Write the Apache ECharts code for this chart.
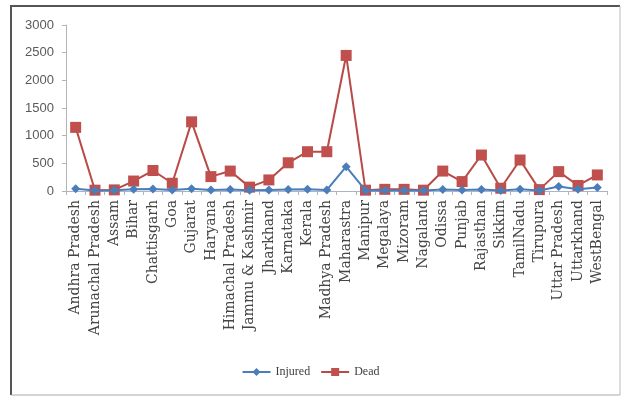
<!DOCTYPE html>
<html>
<head>
<meta charset="utf-8">
<script src="https://cdn.jsdelivr.net/npm/echarts@6/dist/echarts.min.js"></script>
<style>
  html, body { margin: 0; padding: 0; background: #fff; }
  #chart { width: 621px; height: 396px; }
</style>
</head>
<body>
<div id="chart"></div>
<script>
const states = [
  'Andhra Pradesh', 'Arunachal Pradesh', 'Assam', 'Bihar', 'Chattisgarh', 'Goa',
  'Gujarat', 'Haryana', 'Himachal Pradesh', 'Jammu & Kashmir', 'Jharkhand',
  'Karnataka', 'Kerala', 'Madhya Pradesh', 'Maharastra', 'Manipur', 'Megalaya',
  'Mizoram', 'Nagaland', 'Odissa', 'Punjab', 'Rajasthan', 'Sikkim', 'TamilNadu',
  'Tirupura', 'Uttar Pradesh', 'Uttarkhand', 'WestBengal'
];
const injured = [
  40, 10, 15, 30, 35, 20,
  40, 20, 25, 15, 20,
  25, 30, 20, 440, 10, 15,
  10, 10, 25, 20, 25, 10, 30,
  10, 80, 30, 65
];
const dead = [
  1150, 15, 20, 180, 370, 140,
  1250, 260, 360, 70, 200,
  510, 710, 710, 2450, 15, 30,
  30, 15, 360, 170, 650, 50, 560,
  25, 350, 100, 290
];
const yTicks = [0, 500, 1000, 1500, 2000, 2500, 3000];

const chart = echarts.init(document.getElementById('chart'));
chart.setOption({
  animation: false,
  backgroundColor: '#fff',
  grid: { left: 66, right: 14, top: 25, bottom: 205 },
  graphic: [
    // outer frame: dark left/top edges, lighter right/bottom edges
    { type: 'line', shape: { x1: 11, y1: 6, x2: 11, y2: 395 }, style: { stroke: '#555', lineWidth: 2 } },
    { type: 'line', shape: { x1: 10, y1: 6, x2: 620, y2: 6 }, style: { stroke: '#555', lineWidth: 2 } },
    { type: 'line', shape: { x1: 620, y1: 6, x2: 620, y2: 395 }, style: { stroke: '#bbb', lineWidth: 1 } },
    { type: 'line', shape: { x1: 11, y1: 395, x2: 620, y2: 395 }, style: { stroke: '#aaa', lineWidth: 1 } }
  ],
  legend: {
    bottom: 13,
    left: 'center',
    itemWidth: 28,
    itemHeight: 10,
    itemGap: 10,
    textStyle: { fontFamily: 'Liberation Serif', fontSize: 12, color: '#404040' },
    data: ['Injured', 'Dead']
  },
  xAxis: {
    type: 'category',
    data: states,
    boundaryGap: true,
    axisLine: { lineStyle: { color: '#aab4c4', width: 1 } },
    axisTick: { show: true, length: 4, lineStyle: { color: '#aab4c4' } },
    axisLabel: {
      rotate: 90,
      interval: 0,
      margin: 9,
      fontFamily: 'DejaVu Serif',
      fontSize: 14,
      color: '#454545'
    }
  },
  yAxis: {
    type: 'value',
    min: yTicks[0],
    max: yTicks[yTicks.length - 1],
    interval: 500,
    splitLine: { show: false },
    axisLine: { show: true, lineStyle: { color: '#b4b4b4' } },
    axisTick: { show: true, length: 4, lineStyle: { color: '#b4b4b4' } },
    axisLabel: {
      margin: 12,
      fontFamily: 'Liberation Sans',
      fontSize: 13,
      color: '#5a5a5a',
      formatter: v => String(v)
    }
  },
  series: [
    {
      name: 'Injured',
      type: 'line',
      data: injured,
      symbol: 'diamond',
      symbolSize: 9,
      z: 3,
      itemStyle: { color: '#4a7ebb' },
      lineStyle: { color: '#4a7ebb', width: 2 }
    },
    {
      name: 'Dead',
      type: 'line',
      data: dead,
      symbol: 'rect',
      symbolSize: 11,
      z: 2,
      itemStyle: { color: '#c0504d' },
      lineStyle: { color: '#b84a47', width: 2 }
    }
  ]
});
</script>
</body>
</html>
